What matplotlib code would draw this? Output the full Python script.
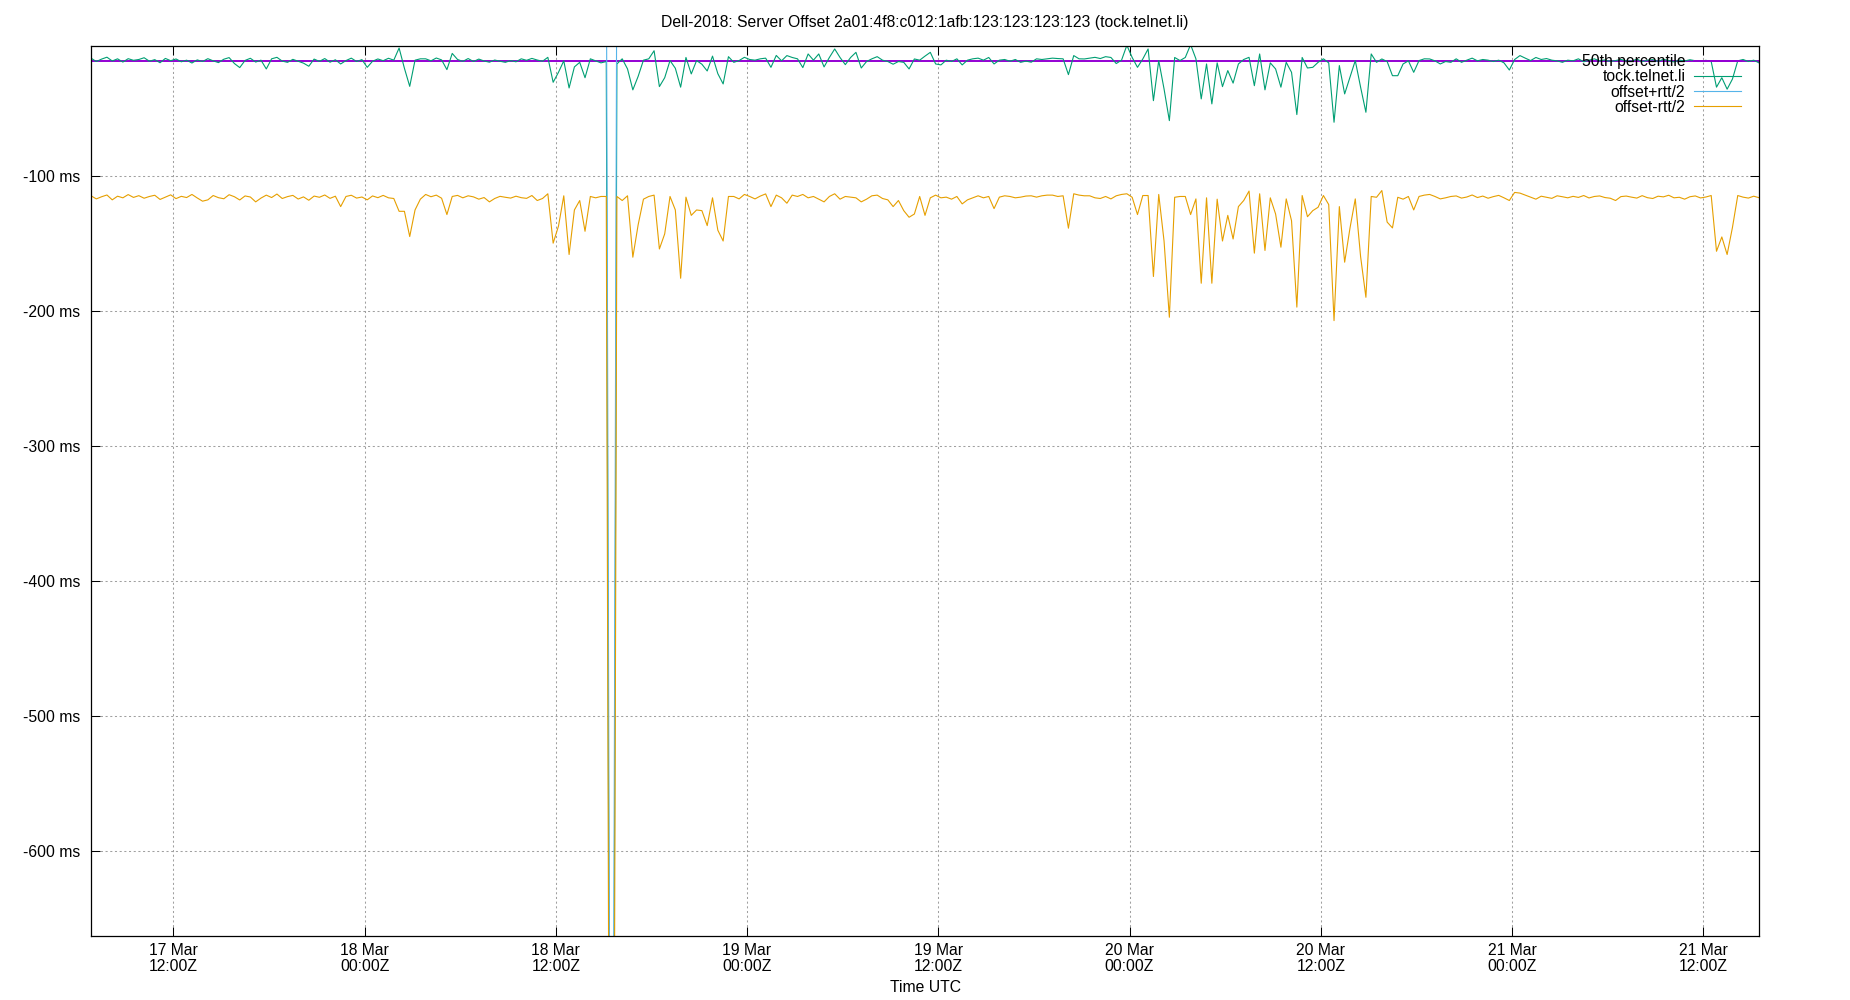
import numpy as np
import pandas as pd
import matplotlib
matplotlib.use('Agg')
import matplotlib.pyplot as plt
import matplotlib.dates as mdates
from matplotlib.ticker import FuncFormatter

plt.rcParams['font.family'] = ['Liberation Sans', 'DejaVu Sans']
FS = 11.3
plt.rcParams['font.size'] = FS

title = 'Dell-2018: Server Offset 2a01:4f8:c012:1afb:123:123:123:123 (tock.telnet.li)'
server = 'tock.telnet.li'

# samples every 20 minutes
start = '2022-03-17 06:50'
step_min = 20

# offset, ms (green)
offset_ms = [
    -12.5, -15.0, -13.2, -11.8, -14.6, -13.0, -15.4, -12.9, -14.1, -13.5,
    -12.2, -14.8, -13.6, -15.9, -12.7, -14.4, -13.1, -15.2, -14.0, -16.1,
    -13.8, -15.0, -12.9, -14.5, -15.8, -13.3, -12.1, -16.5, -19.5, -14.2,
    -12.6, -15.4, -14.0, -20.5, -13.0, -11.9, -14.7, -15.6, -13.4, -14.8,
    -16.2, -18.5, -13.2, -14.9, -12.8, -15.5, -13.7, -16.8, -14.3, -12.5,
    -15.0, -13.6, -19.3, -14.8, -13.1, -14.4, -12.6, -14.0, -5.0, -20.0,
    -33.4, -14.0, -13.0, -13.0, -14.5, -12.4, -13.8, -21.0, -9.0, -13.5,
    -14.9, -12.8, -15.0, -13.2, -14.6, -15.5, -13.9, -14.8, -15.6, -14.3,
    -15.2, -13.0, -14.1, -12.7, -13.9, -14.8, -11.9, -30.4, -23.0, -14.5,
    -34.6, -19.0, -15.6, -27.0, -13.0, -14.5, -16.0, -15.0, -1300.0, -16.8,
    -13.0, -20.5, -36.0, -26.0, -14.0, -13.0, -7.0, -33.6, -27.0, -14.3,
    -20.0, -34.0, -12.0, -24.2, -14.3, -17.0, -22.0, -11.0, -24.0, -31.6,
    -11.4, -15.6, -14.3, -11.9, -13.5, -14.0, -13.0, -12.5, -19.3, -10.5,
    -14.5, -10.6, -12.0, -13.0, -19.5, -9.4, -14.0, -9.4, -19.0, -12.0,
    -5.7, -12.0, -17.3, -12.0, -8.2, -19.8, -15.0, -13.0, -11.4, -14.0,
    -15.0, -17.0, -15.0, -15.6, -20.5, -13.1, -14.0, -11.0, -8.2, -16.8,
    -17.5, -14.0, -15.0, -13.0, -17.5, -14.0, -13.0, -12.5, -14.0, -12.0,
    -16.8, -14.0, -13.5, -14.8, -13.5, -15.6, -14.7, -15.5, -13.0, -13.5,
    -13.0, -12.5, -12.8, -13.0, -24.7, -10.6, -13.0, -13.1, -12.5, -11.9,
    -12.8, -11.4, -12.0, -16.5, -14.0, -3.0, -12.0, -19.3, -13.1, -5.7,
    -44.0, -14.3, -35.3, -58.8, -12.0, -14.3, -12.0, -2.5, -13.0, -42.7,
    -16.8, -46.4, -16.0, -33.6, -21.7, -31.0, -16.8, -13.5, -11.9, -32.9,
    -9.4, -36.0, -16.0, -20.5, -34.0, -15.6, -23.0, -54.3, -12.0, -19.8,
    -19.3, -15.6, -13.0, -16.0, -60.0, -18.0, -39.0, -26.7, -14.3, -34.0,
    -52.6, -9.4, -15.6, -13.1, -15.0, -25.5, -25.5, -16.8, -14.5, -23.0,
    -14.3, -13.0, -13.1, -14.5, -16.8, -15.0, -15.6, -13.0, -15.6, -14.0,
    -12.5, -14.5, -13.5, -14.0, -15.0, -14.0, -16.0, -21.3, -13.5, -10.6,
    -12.5, -14.3, -12.0, -13.5, -12.8, -14.0, -14.5, -15.6, -14.0, -14.5,
    -13.0, -15.2, -14.0, -13.0, -14.5, -13.8, -15.0, -14.3, -13.5, -14.5,
    -14.8, -13.2, -15.1, -14.0, -13.6, -14.9, -13.4, -14.2, -15.3, -13.9,
    -14.6, -13.7, -14.4, -15.0, -14.1, -15.0, -34.0, -27.0, -35.5, -28.0,
    -14.5, -13.5, -15.0, -14.0, -16.0,
]

# offset - rtt/2, ms (orange)
low_ms = [
    -114.5, -116.8, -115.2, -113.9, -117.5, -114.8, -116.0, -113.6, -115.7, -114.4,
    -116.3, -115.0, -114.1, -117.2, -115.5, -113.8, -116.6, -114.9, -115.8, -113.5,
    -116.1, -118.5, -117.5, -114.3, -115.9, -116.7, -113.7, -115.2, -117.6, -114.6,
    -115.4, -119.0, -116.2, -114.0, -115.8, -113.2, -116.5, -115.1, -114.2, -116.9,
    -115.3, -117.8, -114.7, -115.6, -113.9, -116.4, -114.8, -122.5, -115.0, -114.1,
    -116.2, -115.4, -117.5, -114.6, -115.9, -114.2, -116.0, -116.5, -126.0, -126.0,
    -144.7, -125.0, -117.0, -113.5, -115.2, -114.0, -116.3, -128.4, -115.0, -114.2,
    -116.0, -114.5, -115.3, -117.0, -115.8, -119.0, -116.5, -114.9, -115.6, -116.2,
    -114.8, -115.9, -116.4, -114.3, -118.0, -116.5, -113.0, -149.6, -137.0, -114.5,
    -158.0, -125.0, -118.0, -140.8, -115.0, -116.0, -115.0, -115.0, -1400.0, -115.0,
    -118.0, -114.5, -160.0, -136.0, -117.0, -115.0, -114.0, -153.9, -142.7, -115.0,
    -125.0, -175.6, -115.5, -129.0, -125.0, -125.5, -136.6, -116.0, -140.0, -148.0,
    -115.0, -115.0, -116.8, -113.5, -115.0, -116.8, -114.7, -113.1, -122.5, -114.0,
    -116.0, -120.0, -114.0, -115.0, -113.5, -116.0, -115.0, -117.0, -119.0, -115.0,
    -113.0, -117.0, -115.0, -115.5, -116.0, -119.0, -117.0, -114.5, -114.0, -116.5,
    -117.5, -122.5, -118.0, -125.5, -130.4, -128.0, -115.0, -129.0, -116.0, -114.0,
    -116.0, -115.5, -117.0, -115.0, -120.5, -117.5, -116.0, -114.5, -116.0, -115.0,
    -124.0, -115.5, -114.5, -115.0, -116.0, -115.5, -114.7, -114.5, -115.5, -114.5,
    -114.0, -114.0, -115.0, -114.5, -138.5, -113.0, -114.0, -114.5, -114.5, -116.0,
    -116.5, -115.0, -116.8, -114.5, -113.5, -113.0, -115.6, -128.4, -114.3, -114.3,
    -174.3, -113.5, -148.0, -204.5, -115.6, -115.0, -115.0, -128.4, -116.8, -179.3,
    -116.0, -179.3, -117.0, -148.0, -129.0, -146.5, -122.5, -118.0, -111.0, -157.0,
    -113.0, -155.0, -116.0, -128.0, -152.6, -116.8, -133.0, -197.0, -114.3, -130.0,
    -125.5, -123.0, -114.3, -121.0, -207.0, -122.5, -163.7, -138.5, -116.8, -159.5,
    -189.7, -115.0, -115.6, -110.6, -134.0, -138.3, -115.6, -117.0, -115.0, -125.0,
    -115.0, -114.0, -113.5, -115.0, -116.8, -116.0, -115.0, -114.6, -116.2, -115.4,
    -113.9, -115.8, -114.7, -116.3, -115.1, -114.2, -116.0, -118.0, -112.0, -112.5,
    -114.0, -115.5, -117.0, -114.8, -115.6, -116.4, -114.5, -115.2, -116.0, -114.9,
    -115.7, -114.3, -116.1, -115.0, -114.6, -115.8, -116.3, -118.0, -115.1, -114.7,
    -115.5, -116.2, -114.4, -115.9, -116.5, -114.8, -115.3, -114.1, -116.0, -115.6,
    -117.0, -115.2, -114.6, -116.1, -115.4, -114.3, -155.6, -145.0, -158.0, -138.0,
    -114.3, -115.5, -116.2, -114.8, -115.9,
]

ytick_vals = [-100, -200, -300, -400, -500, -600]
ylim = (-663, -3.5)

offset = np.array(offset_ms)
low = np.array(low_ms)
high = 2 * offset - low            # offset + rtt/2
p50 = np.percentile(offset, 50)
t = pd.date_range(start, periods=len(offset), freq=f'{step_min}min')

W, H = 1850, 1000
fig = plt.figure(figsize=(W / 100, H / 100), dpi=100)
L, R, T, B = 91, 1759, 46, 936
ax = fig.add_axes([L / W, 1 - B / H, (R - L) / W, (B - T) / H])

ax.plot(t[[0, -1]], [p50, p50], color='#9400d3', lw=1.4, label='50th percentile')
ax.plot(t, offset, color='#009e73', lw=0.8, label=server)
ax.plot(t, high, color='#56b4e9', lw=0.8, label='offset+rtt/2')
ax.plot(t, low, color='#e69f00', lw=0.8, label='offset-rtt/2')

ax.set_xlim(t[0], t[-1])
ax.set_ylim(*ylim)
ax.set_yticks(ytick_vals)
ax.yaxis.set_major_formatter(FuncFormatter(lambda v, p: f'{int(v)} ms'))
ax.xaxis.set_major_locator(mdates.HourLocator(byhour=[0, 12]))
ax.xaxis.set_major_formatter(mdates.DateFormatter('%d %b\n%H:%MZ'))
for lab in ax.get_xticklabels():
    lab.set_linespacing(1.05)

ax.tick_params(direction='in', top=True, right=True, length=6.5, width=0.75,
               labelsize=FS, colors='black')
ax.tick_params(axis='x', pad=5)
ax.tick_params(axis='y', pad=8)
ax.grid(True, color='#a0a0a0', linestyle=(0, (2, 2.5)), linewidth=0.75)
for s in ax.spines.values():
    s.set_linewidth(0.9)

ax.legend(loc='upper right', bbox_to_anchor=(1741 / W, 1 - 54 / H),
          bbox_transform=fig.transFigure, frameon=False, markerfirst=False,
          handlelength=3.0, handletextpad=0.55, labelspacing=0.02,
          borderpad=0, borderaxespad=0, fontsize=FS)

fig.text((L + R) / 2 / W, 1 - 23 / H, title, ha='center', va='center', fontsize=FS)
fig.text((L + R) / 2 / W, 1 - 987 / H, 'Time UTC', ha='center', va='center', fontsize=FS)

fig.savefig('out.png', dpi=100)
